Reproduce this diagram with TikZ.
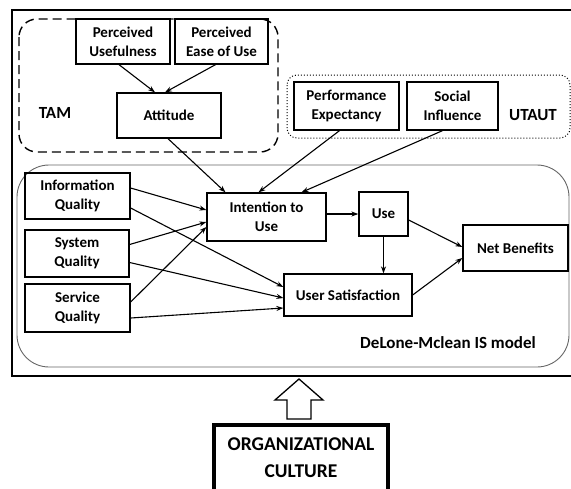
\documentclass[tikz,border=0pt]{standalone}
\usepackage{fontspec}
\setmainfont{Carlito}
\usetikzlibrary{arrows.meta}
\tikzset{
  box/.style={draw, line width=1.3pt, align=center, inner sep=0pt,
    font=\bfseries\fontsize{15}{19}\selectfont},
  lbl/.style={inner sep=0pt, font=\bfseries\fontsize{17}{20}\selectfont},
  arr/.style={-{Stealth[length=7pt,width=5pt]}, line width=1.1pt}
}
\begin{document}
\begin{tikzpicture}[x=1pt, y=-1pt]
 \useasboundingbox (0,0) rectangle (571,488);
 \clip (0,0) rectangle (571,488);
 % frames
 \draw[line width=1.2pt] (12,10) rectangle (600,376);
 \draw[dashed, line width=1.4pt, dash pattern=on 9pt off 5pt, rounded corners=18pt] (19,19) rectangle (278,152);
 \draw[dotted, line width=1pt, rounded corners=10pt] (287,75) rectangle (570,138);
 \draw[gray!80!black, line width=0.9pt, rounded corners=32pt] (17,165) rectangle (569,367);
 % TAM
 \node[box, minimum width=94pt, minimum height=45pt] (pu) at (123,41.5) {Perceived\\Usefulness};
 \node[box, minimum width=93pt, minimum height=45pt] (peu) at (221.5,41.5) {Perceived\\Ease of Use};
 \node[box, minimum width=104pt, minimum height=45pt] (att) at (169,115.5) {Attitude};
 \node[lbl] (tam) at (55,113) {TAM};
 % UTAUT
 \node[box, minimum width=105pt, minimum height=48pt] (pe) at (346.5,106) {Performance\\Expectancy};
 \node[box, minimum width=91pt, minimum height=48pt] (si) at (452.5,106) {Social\\Influence};
 \node[lbl] (utaut) at (533,115) {UTAUT};
 % DeLone-Mclean
 \node[box, minimum width=105pt, minimum height=46pt] (iq) at (77.5,196) {Information\\Quality};
 \node[box, minimum width=104pt, minimum height=47pt] (sq) at (77,253.5) {System\\Quality};
 \node[box, minimum width=105pt, minimum height=48pt] (svq) at (77.5,308) {Service\\Quality};
 \node[box, minimum width=119pt, minimum height=48pt] (itu) at (266.5,217) {Intention to\\Use};
 \node[box, minimum width=49pt, minimum height=44pt] (use) at (383.5,214) {Use};
 \node[box, minimum width=105pt, minimum height=46pt] (nb) at (515.5,248) {Net Benefits};
 \node[box, minimum width=128pt, minimum height=42pt] (us) at (348,295) {User Satisfaction};
 \node[lbl] (dm) at (448,343) {DeLone-Mclean IS model};
 % culture
 \node[box, line width=3.5pt, minimum width=174pt, minimum height=66pt, font=\bfseries\fontsize{19.5}{27}\selectfont] (oc) at (301,458) {ORGANIZATIONAL\\CULTURE};
 \draw[line width=1.3pt] (287,419) -- (287,400) -- (275,400) -- (299,379) -- (323,400) -- (311,400) -- (311,419) -- cycle;
 % connectors
 \draw[arr] ([xshift=-4pt]pu.south) -- ([xshift=-14pt]att.north);
 \draw[arr] ([xshift=-6pt]peu.south) -- ([xshift=-4pt]att.north);
 \draw[arr] ([xshift=-1pt]att.south) -- ([xshift=-41pt]itu.north);
 \draw[arr] ([xshift=-7pt]pe.south) -- ([xshift=-8pt]itu.north);
 \draw[arr] ([xshift=-10pt]si.south) -- ([xshift=35pt]itu.north);
 \draw[arr] ([yshift=8pt]iq.east) -- ([yshift=7pt]itu.west);
 \draw[arr] ([yshift=-12pt]iq.east) -- ([yshift=8pt]us.west);
 \draw[arr] ([yshift=9pt]sq.east) -- ([yshift=-5pt]itu.west);
 \draw[arr] ([yshift=-9pt]sq.east) -- ([yshift=-3pt]us.west);
 \draw[arr] ([yshift=6pt]svq.east) -- ([yshift=-10pt]itu.west);
 \draw[arr] ([yshift=-10pt]svq.east) -- ([yshift=-13pt]us.west);
 \draw[arr] ([yshift=3pt]itu.east) -- (use.west);
 \draw[arr] (use.south) -- (use.south |- us.north);
 \draw[arr] ([yshift=-6pt]use.east) -- ([yshift=1pt]nb.west);
 \draw[arr] (us.east) -- ([yshift=-10pt]nb.west);
\end{tikzpicture}
\end{document}
